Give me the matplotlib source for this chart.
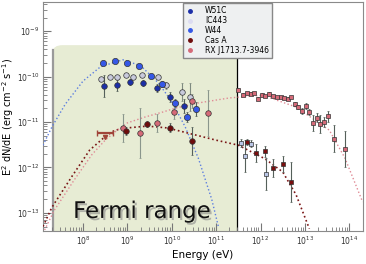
import numpy as np
import matplotlib.pyplot as plt
import matplotlib.patheffects as pe
from matplotlib.patches import FancyBboxPatch
from matplotlib.lines import Line2D

# valores (log10 E [eV], log10 E^2 dN/dE [erg cm-2 s-1])
w44_le = [8.45, 8.72, 8.99, 9.26, 9.53, 9.78, 10.07, 10.34, 10.55]
w44_lf = [-9.70, -9.66, -9.70, -9.77, -9.99, -10.16, -10.58, -10.89, -10.71]
w44_err = [0.04, 0.04, 0.04, 0.04, 0.05, 0.06, 0.08, 0.12, 0.15]

w51_le = [8.47, 8.77, 9.06, 9.35, 9.67, 9.96, 10.27]
w51_lf = [-10.21, -10.19, -10.12, -10.14, -10.25, -10.45, -10.65]
w51_err = [0.25, 0.12, 0.06, 0.06, 0.08, 0.1, 0.15]

ic_le = [8.41, 8.61, 8.77, 8.97, 9.13, 9.33, 9.69, 9.87, 10.23, 10.41]
ic_lf = [-10.05, -10.01, -10.01, -9.97, -10.01, -9.97, -10.01, -10.19, -10.34, -10.45]
ic_err = [0.03, 0.03, 0.03, 0.03, 0.03, 0.04, 0.05, 0.08, 0.2, 0.3]

rx_le = [8.90, 9.28, 9.67, 10.05, 10.45, 10.82]
rx_lf = [-11.13, -11.24, -11.02, -10.78, -10.54, -10.80]
rx_err = [0.3, 0.55, 0.2, 0.15, 0.15, 0.5]

cas_le = [8.97, 9.44, 9.96, 10.45]
cas_lf = [-11.20, -11.04, -11.13, -11.42]
cas_err = [0.08, 0.07, 0.1, 0.3]

# puntos TeV
rx_tev_le = [11.49, 11.60, 11.69, 11.78, 11.85, 11.94, 12.03, 12.10, 12.19, 12.28,
             12.37, 12.46, 12.53, 12.62, 12.68, 12.77, 12.84, 12.93, 13.02, 13.09,
             13.18, 13.27, 13.34, 13.43, 13.52, 13.65, 13.90]
rx_tev_lf = [-10.29, -10.40, -10.36, -10.38, -10.36, -10.49, -10.40, -10.43, -10.38, -10.43,
             -10.45, -10.45, -10.47, -10.49, -10.45, -10.60, -10.67, -10.76, -10.65, -10.78,
             -11.02, -10.91, -11.04, -11.00, -10.87, -11.37, -11.59]
rx_tev_err = [0.03, 0.03, 0.03, 0.03, 0.03, 0.03, 0.03, 0.03, 0.03, 0.03,
              0.03, 0.03, 0.03, 0.03, 0.03, 0.04, 0.05, 0.06, 0.06, 0.07,
              0.18, 0.1, 0.2, 0.12, 0.12, 0.3, 0.4]

cas_tev_le = [11.69, 11.90, 12.10, 12.28, 12.50, 12.68]
cas_tev_lf = [-11.44, -11.68, -11.64, -12.01, -11.92, -12.32]
cas_tev_err = [0.06, 0.2, 0.12, 0.2, 0.18, 0.45]

ic_tev_le = [11.56, 11.65, 11.78, 12.12]
ic_tev_lf = [-11.46, -11.75, -11.48, -12.14]
ic_tev_err = [0.08, 0.35, 0.08, 0.35]

# curvas de modelo
blue_le = [7.1, 7.3, 7.6, 8.0, 8.4, 8.9, 9.3, 9.7, 10.0, 10.3, 10.6, 10.9, 11.05]
blue_lf = [-11.51, -11.11, -10.61, -10.10, -9.78, -9.63, -9.76, -10.14, -10.55, -11.1,
           -11.8, -12.7, -13.3]
casm_le = [7.1, 7.3, 7.75, 8.15, 8.5, 8.72, 9.0, 9.45, 9.9, 10.35, 11.0, 11.5, 12.1,
           12.5, 12.8, 13.1]
casm_lf = [-13.3, -12.88, -12.2, -11.62, -11.32, -11.18, -11.13, -11.09, -11.13, -11.24,
           -11.40, -11.51, -11.81, -12.1, -12.6, -13.35]
rxm_le = [7.1, 7.35, 7.8, 8.2, 8.5, 8.72, 9.0, 9.4, 9.8, 10.1, 10.6, 11.3, 12.05, 12.8,
          13.55, 13.9, 14.3]
rxm_lf = [-13.45, -12.95, -12.28, -11.72, -11.4, -11.22, -11.02, -10.89, -10.78, -10.69,
          -10.58, -10.47, -10.41, -10.67, -11.18, -11.79, -12.76]

c_w51 = '#1c2fa8'
c_ic = '#c8cadc'
c_w44 = '#3558e6'
c_cas = '#6e0c0c'
c_rx = '#d56a78'
c_err = '#55605a'

fig = plt.figure(figsize=(3.66, 2.64), dpi=100)
ax = fig.add_axes([0.1175, 0.125, 0.8745, 0.867])
ax.set_xscale('log')
ax.set_yscale('log')
lx0, lx1 = 7.10, 14.31
ax.set_xlim(10**lx0, 10**lx1)
ax.set_ylim(10**-13.40, 10**-8.36)

# zona Fermi
efermi = 3e11
xf = (np.log10(efermi) - lx0) / (lx1 - lx0)
box = FancyBboxPatch((0.031, -0.05), xf - 0.031, 0.862, boxstyle='round,pad=0,rounding_size=0.03',
                     transform=ax.transAxes, facecolor='#e7ecd4', edgecolor='none', zorder=0)
ax.add_patch(box)
ax.plot([0.031, 0.031], [0, 0.79], color='#9a9a9a', lw=1.6, transform=ax.transAxes, zorder=1)
ax.plot([xf, xf], [0, 0.79], color='black', lw=0.9, transform=ax.transAxes, zorder=1)
ax.text(0.094, 0.057, 'Fermi range', transform=ax.transAxes, fontsize=16.5,
        color='#111111', zorder=2,
        path_effects=[pe.withSimplePatchShadow(offset=(1.5, -1.5), shadow_rgbFace='#888888', alpha=0.6)])

def p(v):
    return 10**np.array(v)

def ebar(le, lf, err, color, marker, ms, ecol):
    y = p(lf)
    e = np.array(err)
    yl = y - 10**(np.array(lf) - e)
    yu = 10**(np.array(lf) + e) - y
    ax.errorbar(p(le), y, yerr=[yl, yu], fmt=marker, ms=ms, mfc=color, mec='#333333',
                mew=0.5, ecolor=ecol, elinewidth=0.8, capsize=1, capthick=0.6, zorder=4)

ax.plot(p(blue_le), p(blue_lf), ':', color='#5c7ee0', lw=1.0, zorder=3)
ax.plot(p(casm_le), p(casm_lf), ':', color='#7a1515', lw=1.2, zorder=3)
ax.plot(p(rxm_le), p(rxm_lf), ':', color='#e08a95', lw=1.0, zorder=3)

ebar(ic_le, ic_lf, ic_err, c_ic, 'o', 4, '#7e8a80')
ebar(w51_le, w51_lf, w51_err, c_w51, 'o', 4, c_err)
ebar(w44_le, w44_lf, w44_err, c_w44, 'o', 4.5, c_err)
ebar(rx_le, rx_lf, rx_err, c_rx, 'o', 4, '#8a968c')
ebar(cas_le, cas_lf, cas_err, c_cas, 'o', 4, c_err)
ebar(rx_tev_le, rx_tev_lf, rx_tev_err, c_rx, 's', 3.5, c_err)
ebar(ic_tev_le, ic_tev_lf, ic_tev_err, '#b9c6e6', 's', 3.5, c_err)
ebar(cas_tev_le, cas_tev_lf, cas_tev_err, '#7a0e0e', 's', 3.5, c_err)

# limite horizontal (Cas A)
ax.errorbar([10**8.5], [10**-11.24], xerr=[[10**8.5 - 10**8.32], [10**8.68 - 10**8.5]],
            fmt='none', ecolor='#a0453a', elinewidth=1.6, capsize=2, zorder=4)
ax.plot([10**8.5], [10**-11.34], marker='v', ms=3, color='#a0453a', zorder=4)

for s in ax.spines.values():
    s.set_color('#8a8a8a')
ax.tick_params(which='both', direction='in', colors='#777777', labelcolor='#333333',
               labelsize=5.5, top=False, right=False, pad=2.5)
ax.tick_params(which='major', length=6, width=0.8)
ax.tick_params(which='minor', length=3, width=0.6)
ax.set_xticks([10.0**k for k in range(8, 15)])

ax.set_xlabel('Energy (eV)', fontsize=7.5)
ax.set_ylabel('E$^2$ dN/dE (erg cm$^{-2}$ s$^{-1}$)', fontsize=7)
ax.xaxis.set_label_coords(0.5, -0.083)
ax.yaxis.set_label_coords(-0.085, 0.5)

handles = [Line2D([], [], ls='none', marker='o', ms=2.5, mfc=c, mec=c) for c in
           [c_w51, '#dcdcf2', c_w44, c_cas, c_rx]]
labels = ['W51C', 'IC443', 'W44', 'Cas A', 'RX J1713.7-3946']
leg = ax.legend(handles, labels, loc='upper left', bbox_to_anchor=(0.4375, 0.996),
                fontsize=5.5, frameon=True, fancybox=False, borderpad=0.45,
                labelspacing=0.1, handletextpad=1.6, handlelength=0.8, borderaxespad=0)
leg.get_frame().set_facecolor('#eef0f1')
leg.get_frame().set_edgecolor('#888888')
leg.get_frame().set_alpha(1)
leg.set_zorder(6)

fig.savefig('out.png', dpi=100)
